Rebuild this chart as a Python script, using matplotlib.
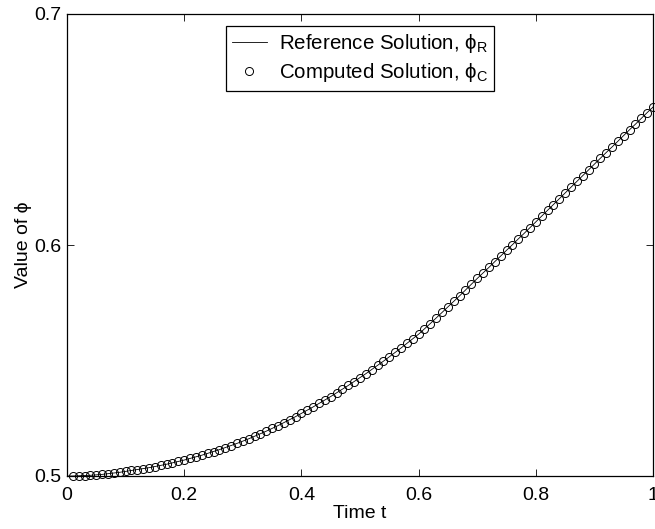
import matplotlib
matplotlib.use("Agg")
import matplotlib.pyplot as plt

# values
t_ref = [0.00, 0.01, 0.02, 0.03, 0.04, 0.05, 0.06, 0.07, 0.08, 0.09, 0.10,
         0.11, 0.12, 0.13, 0.14, 0.15, 0.16, 0.17, 0.18, 0.19, 0.20,
         0.21, 0.22, 0.23, 0.24, 0.25, 0.26, 0.27, 0.28, 0.29, 0.30,
         0.31, 0.32, 0.33, 0.34, 0.35, 0.36, 0.37, 0.38, 0.39, 0.40,
         0.41, 0.42, 0.43, 0.44, 0.45, 0.46, 0.47, 0.48, 0.49, 0.50,
         0.51, 0.52, 0.53, 0.54, 0.55, 0.56, 0.57, 0.58, 0.59, 0.60,
         0.61, 0.62, 0.63, 0.64, 0.65, 0.66, 0.67, 0.68, 0.69, 0.70,
         0.71, 0.72, 0.73, 0.74, 0.75, 0.76, 0.77, 0.78, 0.79, 0.80,
         0.81, 0.82, 0.83, 0.84, 0.85, 0.86, 0.87, 0.88, 0.89, 0.90,
         0.91, 0.92, 0.93, 0.94, 0.95, 0.96, 0.97, 0.98, 0.99, 1.00]

phi_ref = [0.5000, 0.5000, 0.5001, 0.5002, 0.5003, 0.5005, 0.5007, 0.5010, 0.5013, 0.5016, 0.5020,
           0.5024, 0.5028, 0.5032, 0.5036, 0.5041, 0.5046, 0.5051, 0.5057, 0.5063, 0.5069,
           0.5076, 0.5083, 0.5090, 0.5098, 0.5106, 0.5114, 0.5123, 0.5132, 0.5141, 0.5151,
           0.5161, 0.5172, 0.5183, 0.5194, 0.5206, 0.5218, 0.5231, 0.5244, 0.5257, 0.5271,
           0.5285, 0.5299, 0.5314, 0.5329, 0.5344, 0.5360, 0.5376, 0.5392, 0.5409, 0.5426,
           0.5443, 0.5461, 0.5479, 0.5497, 0.5516, 0.5535, 0.5554, 0.5574, 0.5594, 0.5614,
           0.5637, 0.5660, 0.5684, 0.5708, 0.5732, 0.5756, 0.5780, 0.5805, 0.5830, 0.5855,
           0.5879, 0.5903, 0.5928, 0.5952, 0.5977, 0.6001, 0.6026, 0.6050, 0.6075, 0.6100,
           0.6125, 0.6150, 0.6175, 0.6200, 0.6225, 0.6250, 0.6275, 0.6300, 0.6325, 0.6350,
           0.6375, 0.6400, 0.6424, 0.6449, 0.6474, 0.6499, 0.6523, 0.6548, 0.6573, 0.6597]

# computed solution sampled at t = 0.01 ... 1.00
t_comp = t_ref[1:]
phi_comp = phi_ref[1:]

xticks = [0, 0.2, 0.4, 0.6, 0.8, 1]
xtick_labels = ["0", "0.2", "0.4", "0.6", "0.8", "1"]
yticks = [0.5, 0.6, 0.7]
ytick_labels = ["0.5", "0.6", "0.7"]

plt.rcParams["font.family"] = ["Liberation Sans", "DejaVu Sans"]
plt.rcParams["mathtext.fontset"] = "custom"
plt.rcParams["mathtext.rm"] = "Liberation Sans"

fig = plt.figure(figsize=(6.55, 5.29), dpi=100)
ax = fig.add_axes([67 / 655, 53 / 529, 586 / 655, 462 / 529])

ax.plot(t_ref, phi_ref, color="black", linewidth=0.6,
        label=r"Reference Solution, $\mathregular{ϕ_{R}}$")
ax.plot(t_comp, phi_comp, linestyle="none", marker="o", markersize=5.8,
        markerfacecolor="none", markeredgecolor="black", markeredgewidth=0.7,
        label=r"Computed Solution, $\mathregular{ϕ_{C}}$", clip_on=False)

ax.set_xlim(0, 1)
ax.set_ylim(0.5, 0.7)
ax.set_xticks(xticks)
ax.set_xticklabels(xtick_labels)
ax.set_yticks(yticks)
ax.set_yticklabels(ytick_labels)
ax.tick_params(direction="in", length=5, width=0.6, labelsize=14,
               top=True, right=True, pad=4)
ax.tick_params(axis="x", pad=8)
for s in ax.spines.values():
    s.set_linewidth(0.9)

ax.set_xlabel("Time t", fontsize=14, labelpad=1)
ax.set_ylabel("Value of ϕ", fontsize=14, labelpad=2)

leg = ax.legend(loc="upper center", bbox_to_anchor=(0.5, 0.974), borderaxespad=0,
                fontsize=14.8, fancybox=False, framealpha=1, edgecolor="black",
                handlelength=1.7, handletextpad=0.6, borderpad=0.3,
                labelspacing=0.3)
leg.get_frame().set_linewidth(0.9)

fig.savefig("out.png", dpi=100)
